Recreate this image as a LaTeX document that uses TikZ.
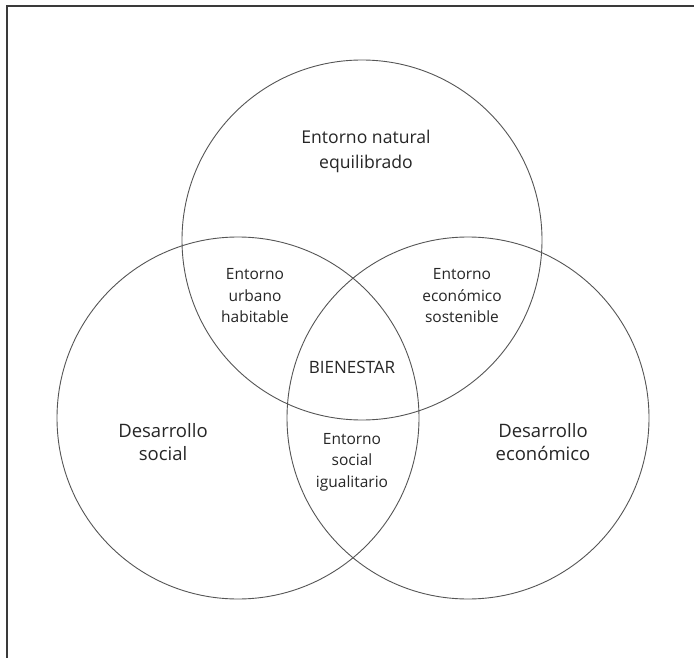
\documentclass[tikz,border=0pt]{standalone}
\usepackage{fontspec}
\setmainfont{Open Sans}
\definecolor{framegray}{HTML}{3A3A3A}
\definecolor{ringgray}{HTML}{555555}
\definecolor{textgray}{HTML}{262626}
\begin{document}
\begin{tikzpicture}[x=1pt,y=-1pt,
  ring/.style={draw=ringgray,line width=0.9pt},
  biglabel/.style={align=center,text=textgray,font=\fontsize{17.6}{25}\selectfont,inner sep=0pt},
  midlabel/.style={align=center,text=textgray,font=\fontsize{15.5}{21.5}\selectfont,inner sep=0pt},
  centerlabel/.style={align=center,text=textgray,font=\fontsize{17}{21.5}\selectfont,inner sep=0pt},
  sidelabel/.style={align=center,text=textgray,font=\fontsize{18.5}{23.5}\selectfont,inner sep=0pt}]
\useasboundingbox (0,0) rectangle (694,658);
\fill[white] (0,0) rectangle (694,658);
\draw[framegray,line width=1.3pt] (7,658) -- (7,6) -- (694,6);
\coordinate (ct) at (362,240);
\coordinate (cl) at (238,418);
\coordinate (cr) at (468,418);
\draw[ring] (ct) circle[radius=180];
\draw[ring] (cl) circle[radius=181];
\draw[ring] (cr) circle[radius=181];
\node[biglabel] (nat) at (366,151) {Entorno natural\\equilibrado};
\node[midlabel] (urb) at (255,296) {Entorno\\urbano\\habitable};
\node[midlabel] (eco) at (462,296) {Entorno\\económico\\sostenible};
\node[centerlabel] (bien) at (352,367) {BIENESTAR};
\node[midlabel] (soc) at (352,462) {Entorno\\social\\igualitario};
\node[sidelabel] (dsoc) at (163,442) {Desarrollo\\social};
\node[sidelabel] (deco) at (543,442) {Desarrollo\\económico};
\end{tikzpicture}
\end{document}
